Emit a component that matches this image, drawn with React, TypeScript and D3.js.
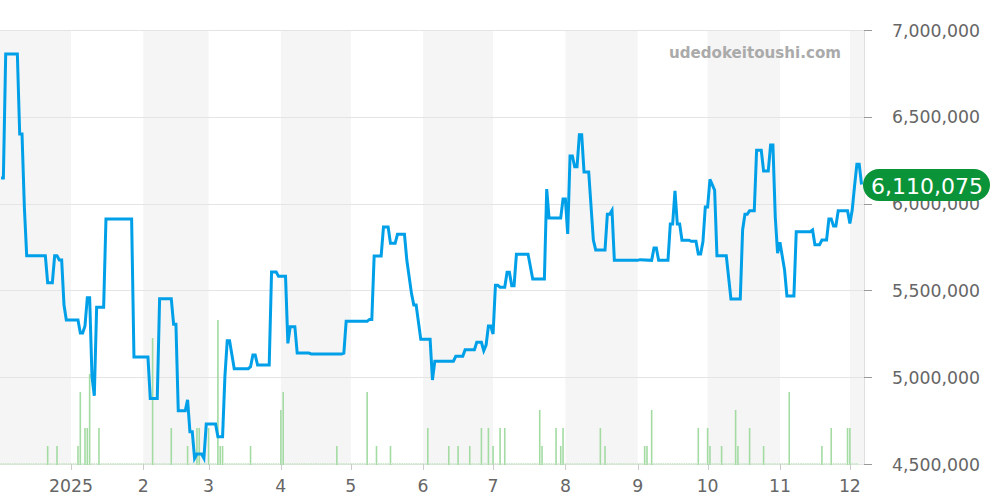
import React from "react";
import * as d3 from "d3";

const startDate = new Date(2024, 11, 1);
const endDate = new Date(2025, 11, 7);

// Price series: day number since startDate and price (JPY)
const priceDays = [1,2,3,8,9,10,11,12,20,21,23,24,25,26,27,28,29,34,35,36,37,38,39,40,41,42,45,46,57,58,64,65,68,69,74,75,76,77,80,81,82,83,84,85,87,88,89,93,94,96,97,98,99,101,107,108,109,110,111,116,117,119,120,123,124,125,127,128,133,134,147,148,149,158,159,160,161,164,165,167,168,170,171,174,175,177,178,179,181,185,186,187,195,196,199,200,204,205,207,208,209,210,211,212,213,214,215,217,218,219,220,221,222,227,229,234,235,236,241,242,243,244,245,246,247,248,249,250,251,253,255,256,260,261,262,263,264,274,275,280,281,282,283,287,288,289,290,291,292,293,296,297,299,300,301,302,303,304,305,307,308,312,314,318,319,320,321,322,324,325,327,328,330,331,332,333,334,335,337,338,341,342,348,349,350,352,353,355,356,357,358,359,360,364,365,366,367,368,369,370];
const priceValues = [6147000,6147000,6862000,6862000,6401000,6401000,5980000,5700000,5700000,5544000,5544000,5700000,5700000,5675000,5675000,5416000,5329000,5329000,5255000,5255000,5295000,5458000,5458000,5003000,4893000,5403000,5403000,5911000,5911000,5116000,5116000,4878000,4878000,5452000,5452000,5305000,5305000,4807000,4807000,4869000,4686000,4686000,4533000,4558000,4558000,4533000,4730000,4730000,4657000,4657000,5003000,5210000,5210000,5049000,5049000,5060000,5128000,5128000,5070000,5070000,5606000,5606000,5581000,5581000,5195000,5291000,5291000,5139000,5139000,5134000,5134000,5139000,5322000,5322000,5333000,5333000,5698000,5698000,5865000,5865000,5771000,5771000,5823000,5823000,5675000,5483000,5416000,5416000,5218000,5218000,4984000,5092000,5092000,5120000,5120000,5158000,5158000,5201000,5201000,5153000,5185000,5295000,5295000,5249000,5529000,5529000,5518000,5518000,5604000,5604000,5527000,5527000,5708000,5708000,5566000,5566000,6084000,5917000,5917000,6026000,6026000,5825000,6274000,6274000,6212000,6212000,6397000,6397000,6182000,6182000,5790000,5733000,5733000,5938000,5938000,5961000,5673000,5673000,5677000,5673000,5744000,5744000,5673000,5673000,5882000,5882000,6074000,5882000,5882000,5789000,5789000,5783000,5783000,5710000,5710000,5781000,5980000,5980000,6140000,6078000,5700000,5700000,5450000,5450000,5848000,5938000,5938000,5959000,5959000,6307000,6307000,6188000,6188000,6337000,6337000,5924000,5714000,5777000,5617000,5468000,5468000,5838000,5838000,5848000,5763000,5763000,5790000,5790000,5911000,5911000,5871000,5871000,5959000,5959000,5886000,5963000,6101000,6226000,6226000,6110075];

// Listings per day: day number since startDate and count
const volumeDays = [21,25,34,35,37,38,39,43,66,74,81,85,86,90,94,95,96,108,121,122,145,158,162,168,184,193,197,202,207,210,212,215,217,232,233,239,241,242,258,260,277,278,280,300,304,305,310,316,317,322,328,339,353,357,364,365];
const volumeValues = [1,1,1,4,2,2,5,2,7,2,1,2,2,2,8,1,1,1,3,4,1,4,1,1,2,1,1,1,2,2,1,2,2,3,1,2,1,2,2,1,1,1,3,2,2,1,1,3,1,2,1,4,1,2,2,2];

const yTicks = [4500000, 5000000, 5500000, 6000000, 6500000, 7000000];
const monthLabels = ["2025", "2", "3", "4", "5", "6", "7", "8", "9", "10", "11", "12"];
const lastPrice = 6110075;
const watermark = "udedokeitoushi.com";

const FONT = "'DejaVu Sans', sans-serif";
const day = (n: number) => d3.timeDay.offset(startDate, n);

export default function App() {
  const plotLeft = -1.3;
  const plotRight = 864;
  const top = 30;
  const bottom = 464;

  const x = d3.scaleTime().domain([startDate, endDate]).range([plotLeft, plotLeft + 2.332 * 371]);
  const y = d3.scaleLinear().domain([4500000, 7000000]).range([bottom, top]);
  const yVol = d3.scaleLinear().domain([0, 24.11]).range([bottom, top]);
  const fmt = d3.format(",");

  const months = d3.timeMonth.range(startDate, d3.timeMonth.ceil(endDate));
  const bands = months.filter((_, i) => i % 2 === 0);
  const tickMonths = months.slice(1);

  const line = d3
    .line<number>()
    .x((d) => x(day(d)))
    .y((_, i) => y(priceValues[i]));

  const allDays = d3.range(0, 369);
  const volByDay = new Map(volumeDays.map((d, i) => [d, volumeValues[i]]));

  return (
    <svg
      width={1000}
      height={500}
      style={{ position: "absolute", left: 0, top: 0, background: "#fff", fontFamily: FONT }}
    >
      {bands.map((m) => (
        <rect
          key={+m}
          x={Math.max(0, x(m))}
          y={top}
          width={Math.min(plotRight, x(d3.timeMonth.offset(m, 1))) - Math.max(0, x(m))}
          height={bottom - top}
          fill="#f5f5f5"
        />
      ))}
      {yTicks.map((t) => (
        <line key={t} x1={0} x2={plotRight} y1={Math.round(y(t)) + 0.5} y2={Math.round(y(t)) + 0.5} stroke="#e4e4e4" />
      ))}
      <line x1={plotRight + 0.5} x2={plotRight + 0.5} y1={top} y2={bottom} stroke="#e0e0e0" />
      <line x1={0} x2={plotRight} y1={bottom + 0.5} y2={bottom + 0.5} stroke="#e4e4e4" />
      {allDays.map((d) => {
        const v = volByDay.get(d);
        if (v) {
          return (
            <rect key={d} x={x(day(d)) - 0.8} width={1.6} y={yVol(v)} height={bottom - yVol(v) + 1} fill="#a3dba3" />
          );
        }
        return <rect key={d} x={x(day(d)) - 0.8} width={1.6} y={bottom - 1} height={2} fill="#cfe8cf" />;
      })}
      <path
        d={line(priceDays) ?? ""}
        fill="none"
        stroke="#00a0e9"
        strokeWidth={3}
        strokeLinejoin="miter"
      />
      {yTicks.map((t) => (
        <g key={t}>
          <line x1={plotRight} x2={plotRight + 8} y1={Math.round(y(t)) + 0.5} y2={Math.round(y(t)) + 0.5} stroke="#999" />
          <text x={980} y={y(t) + 6.5} textAnchor="end" fontSize={17.3} fill="#666">
            {fmt(t)}
          </text>
        </g>
      ))}
      {tickMonths.map((m, i) => (
        <g key={+m}>
          <line x1={Math.round(x(m)) + 0.5} x2={Math.round(x(m)) + 0.5} y1={bottom} y2={bottom + 6} stroke="#ccc" />
          <text x={x(m)} y={492} textAnchor="middle" fontSize={17.3} fill="#666">
            {monthLabels[i]}
          </text>
        </g>
      ))}
      <text x={841} y={58} textAnchor="end" fontSize={15.1} fontWeight="bold" fill="#aaa">
        {watermark}
      </text>
      <rect x={863} y={169} width={127} height={32} rx={16} ry={16} fill="#0a9338" />
      <text x={927} y={193.5} textAnchor="middle" fontSize={22} fill="#fff">
        {fmt(lastPrice)}
      </text>
    </svg>
  );
}
